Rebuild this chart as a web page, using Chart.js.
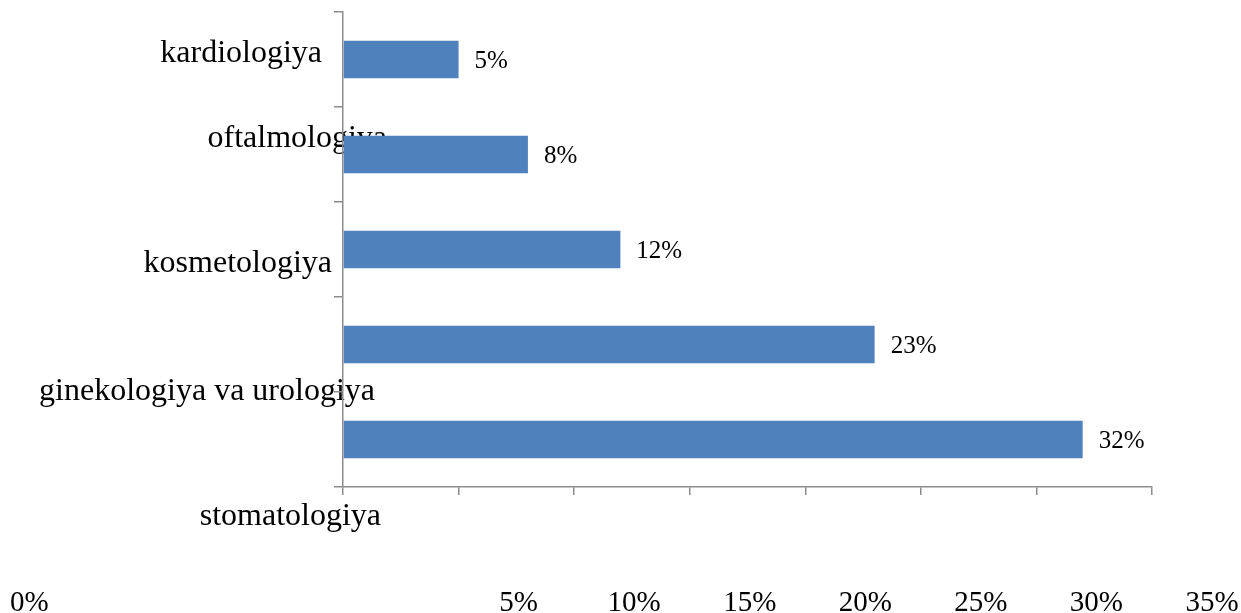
<!DOCTYPE html>
<html lang="en">

<head>
    <meta charset="UTF-8">
    <title>Specialities</title>
    <script src="https://cdn.jsdelivr.net/npm/chart.js"></script>
    <style>
        body { margin: 0; background: #fff; }
    </style>
</head>

<body>

    <canvas id="barChart" width="1241" height="613"></canvas>

    <script>
        // data
        const categories = ['kardiologiya', 'oftalmologiya', 'kosmetologiya', 'ginekologiya va urologiya', 'stomatologiya'];
        const shares = [5, 8, 12, 23, 32];
        const tickValues = [0, 5, 10, 15, 20, 25, 30, 35];

        // the category labels sit off their bars in the original, keep that
        const labelRight = [322, 387, 332, 375, 381];
        const labelShift = [2, -8, 22, 55, 85];

        const axisGray = '#8c8c8c';
        const serif = 'Liberation Serif, Times New Roman, serif';
        const tickPadding = 91;
        const tickFont = 29;

        // category names go under the bars and axis lines, value labels on top
        const textPlugin = {
            id: 'texts',
            beforeDraw(chart) {
                const ctx = chart.ctx;
                const yScale = chart.scales.y;
                ctx.save();
                ctx.fillStyle = '#000';
                ctx.font = '32px ' + serif;
                ctx.textAlign = 'right';
                ctx.textBaseline = 'alphabetic';
                categories.forEach((name, i) => {
                    ctx.fillText(name, labelRight[i], yScale.getPixelForValue(i) + labelShift[i]);
                });
                ctx.restore();
            },
            afterDraw(chart) {
                const ctx = chart.ctx;
                const xScale = chart.scales.x;
                ctx.save();
                ctx.fillStyle = '#000';

                ctx.font = '25px ' + serif;
                ctx.textAlign = 'left';
                ctx.textBaseline = 'middle';
                chart.getDatasetMeta(0).data.forEach((bar, i) => {
                    ctx.fillText(shares[i] + '%', bar.x + 16, bar.y + 2);
                });

                // the first tick label drifted to the far left
                ctx.font = tickFont + 'px ' + serif;
                ctx.fillText(tickValues[0] + '%', 10, xScale.top + 8 + tickPadding + tickFont * 0.6);
                ctx.restore();
            }
        };

        const ctx = document.getElementById('barChart').getContext('2d');
        new Chart(ctx, {
            type: 'bar',
            data: {
                labels: categories,
                datasets: [{
                    data: shares,
                    backgroundColor: '#4f81bd',
                    categoryPercentage: 1,
                    barPercentage: 0.395
                }]
            },
            options: {
                indexAxis: 'y',
                responsive: false,
                animation: false,
                devicePixelRatio: 1,
                layout: { padding: { top: 12, right: 89, left: 0, bottom: 0 } },
                plugins: {
                    legend: { display: false },
                    tooltip: { enabled: false }
                },
                scales: {
                    x: {
                        min: 0,
                        max: 35,
                        afterBuildTicks(scale) {
                            scale.ticks = tickValues.map(v => ({ value: v }));
                        },
                        afterFit(scale) {
                            scale.height = 126;
                            scale.paddingLeft = 0;
                            scale.paddingRight = 0;
                        },
                        grid: { drawOnChartArea: false, tickLength: 8, color: axisGray, lineWidth: 1.5 },
                        border: { color: axisGray, width: 1.5 },
                        ticks: {
                            autoSkip: false,
                            maxRotation: 0,
                            padding: tickPadding,
                            labelOffset: 60,
                            color: '#000',
                            font: { family: serif, size: tickFont },
                            callback: v => v === 0 ? '' : v + '%'
                        }
                    },
                    y: {
                        afterFit(scale) { scale.width = 343; },
                        grid: { drawOnChartArea: false, offset: true, tickLength: 9, color: axisGray, lineWidth: 1.5 },
                        border: { color: axisGray, width: 1.5 },
                        ticks: { display: false }
                    }
                }
            },
            plugins: [textPlugin]
        });
    </script>

</body>

</html>
